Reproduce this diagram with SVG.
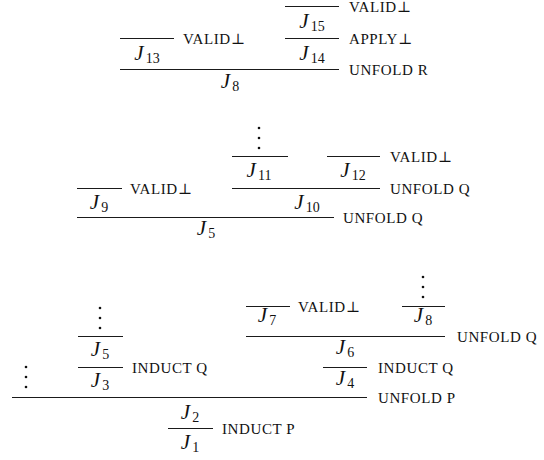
<svg xmlns="http://www.w3.org/2000/svg" width="544" height="460" viewBox="0 0 544 460">
<style>
.bg{fill:#ffffff}
.rule{stroke:#1a1a1a;stroke-width:1.1;fill:none}
.lbl{font-family:'Liberation Serif','Times New Roman',Times,'DejaVu Serif',serif;font-size:15px;letter-spacing:0.6px;fill:#111}
.j{font-family:'Liberation Serif','Times New Roman',Times,'DejaVu Serif',serif;font-size:21px;font-style:italic;fill:#111;text-anchor:middle}
.s{font-style:normal;font-size:14px}
.dot{fill:#111}
</style>
<defs>
<g id="vdots"><circle class="dot" cx="0" cy="0" r="1.3"/><circle class="dot" cx="0" cy="10" r="1.3"/><circle class="dot" cx="0" cy="20" r="1.3"/></g>
</defs>
<rect class="bg" x="0" y="0" width="544" height="460"/>
<g id="connectors">
<line class="rule" x1="285" y1="6.5" x2="339" y2="6.5"/>
<line class="rule" x1="285" y1="38.5" x2="339" y2="38.5"/>
<line class="rule" x1="120" y1="38.5" x2="174" y2="38.5"/>
<line class="rule" x1="120" y1="69.5" x2="339" y2="69.5"/>
<line class="rule" x1="232" y1="156.5" x2="288" y2="156.5"/>
<line class="rule" x1="327" y1="156.5" x2="380" y2="156.5"/>
<line class="rule" x1="232" y1="188.5" x2="380" y2="188.5"/>
<line class="rule" x1="77" y1="188.5" x2="122" y2="188.5"/>
<line class="rule" x1="77" y1="217.5" x2="334" y2="217.5"/>
<line class="rule" x1="78" y1="336.5" x2="123" y2="336.5"/>
<line class="rule" x1="78" y1="367.5" x2="123" y2="367.5"/>
<line class="rule" x1="246" y1="306.5" x2="290" y2="306.5"/>
<line class="rule" x1="402" y1="306.5" x2="445" y2="306.5"/>
<line class="rule" x1="246" y1="336.5" x2="445" y2="336.5"/>
<line class="rule" x1="323" y1="367.5" x2="367" y2="367.5"/>
<line class="rule" x1="12" y1="397.5" x2="367" y2="397.5"/>
<line class="rule" x1="168" y1="428.5" x2="213" y2="428.5"/>
<text class="lbl" x="349" y="12">VALID⊥</text>
<text class="lbl" x="349" y="44">APPLY⊥</text>
<text class="lbl" x="183" y="44">VALID⊥</text>
<text class="lbl" x="349" y="75">UNFOLD R</text>
<text class="lbl" x="390" y="162">VALID⊥</text>
<text class="lbl" x="390" y="194">UNFOLD Q</text>
<text class="lbl" x="130" y="194">VALID⊥</text>
<text class="lbl" x="343" y="223">UNFOLD Q</text>
<text class="lbl" x="132" y="373">INDUCT Q</text>
<text class="lbl" x="298" y="312">VALID⊥</text>
<text class="lbl" x="457" y="342">UNFOLD Q</text>
<text class="lbl" x="378" y="373">INDUCT Q</text>
<text class="lbl" x="378" y="403">UNFOLD P</text>
<text class="lbl" x="222" y="434">INDUCT P</text>
</g>
<g id="dots1"><use href="#vdots" x="259" y="128"/></g>
<g id="dots2"><use href="#vdots" x="100" y="308"/></g>
<g id="dots3"><use href="#vdots" x="26" y="367"/></g>
<g id="dots4"><use href="#vdots" x="423" y="277"/></g>
<g id="J15"><text class="j" x="312" y="28">J<tspan class="s" dx="2" dy="3">15</tspan></text></g>
<g id="J14"><text class="j" x="312" y="60">J<tspan class="s" dx="2" dy="3">14</tspan></text></g>
<g id="J13"><text class="j" x="147" y="60">J<tspan class="s" dx="2" dy="3">13</tspan></text></g>
<g id="J8a"><text class="j" x="230" y="88">J<tspan class="s" dx="2" dy="3">8</tspan></text></g>
<g id="J11"><text class="j" x="259" y="177">J<tspan class="s" dx="2" dy="3">11</tspan></text></g>
<g id="J12"><text class="j" x="353" y="177">J<tspan class="s" dx="2" dy="3">12</tspan></text></g>
<g id="J9"><text class="j" x="99" y="209">J<tspan class="s" dx="2" dy="3">9</tspan></text></g>
<g id="J10"><text class="j" x="307" y="209">J<tspan class="s" dx="2" dy="3">10</tspan></text></g>
<g id="J5a"><text class="j" x="206" y="235">J<tspan class="s" dx="2" dy="3">5</tspan></text></g>
<g id="J5b"><text class="j" x="100" y="356">J<tspan class="s" dx="2" dy="3">5</tspan></text></g>
<g id="J3"><text class="j" x="100" y="387">J<tspan class="s" dx="2" dy="3">3</tspan></text></g>
<g id="J7"><text class="j" x="267" y="322">J<tspan class="s" dx="2" dy="3">7</tspan></text></g>
<g id="J8b"><text class="j" x="423" y="322">J<tspan class="s" dx="2" dy="3">8</tspan></text></g>
<g id="J6"><text class="j" x="345" y="354">J<tspan class="s" dx="2" dy="3">6</tspan></text></g>
<g id="J4"><text class="j" x="345" y="385">J<tspan class="s" dx="2" dy="3">4</tspan></text></g>
<g id="J2"><text class="j" x="190" y="419">J<tspan class="s" dx="2" dy="3">2</tspan></text></g>
<g id="J1"><text class="j" x="190" y="449">J<tspan class="s" dx="2" dy="3">1</tspan></text></g>
</svg>
